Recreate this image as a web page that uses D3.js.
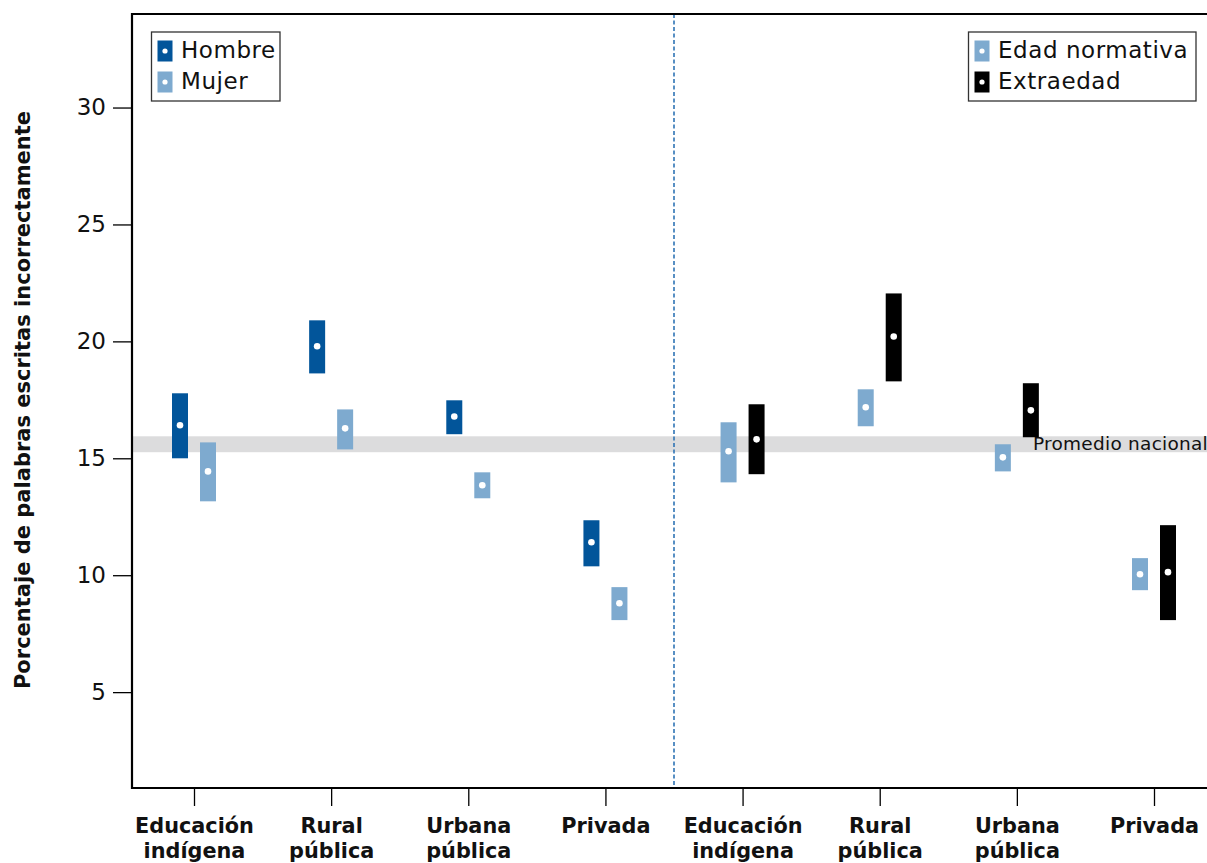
<!DOCTYPE html>
<html lang="es">
<head>
<meta charset="utf-8">
<script src="https://cdn.jsdelivr.net/npm/d3@7/dist/d3.min.js"></script>
<style>
  html, body { margin: 0; padding: 0; background: #fff; }
  svg { display: block; font-family: "DejaVu Sans", Verdana, sans-serif; }
</style>
</head>
<body>
<svg id="chart" width="1207" height="863"></svg>
<script>
// School types, repeated in the two panels (by sex, by age status)
const categories = ["Educación indígena", "Rural pública", "Urbana pública", "Privada"];
const panels = ["sexo", "edad"];

// Percentage of misspelled words: point estimate and interval bounds
const hombreMid = [16.41, 19.79, 16.79, 11.41];
const hombreLo  = [15.00, 18.63, 16.03, 10.38];
const hombreHi  = [17.78, 20.90, 17.48, 12.35];

const mujerMid = [14.44, 16.28, 13.85, 8.80];
const mujerLo  = [13.16, 15.38, 13.29, 8.08];
const mujerHi  = [15.68, 17.09, 14.40, 9.49];

const normativaMid = [15.30, 17.18, 15.04, 10.04];
const normativaLo  = [13.97, 16.37, 14.44, 9.36];
const normativaHi  = [16.54, 17.95, 15.60, 10.73];

const extraedadMid = [15.81, 20.21, 17.05, 10.13];
const extraedadLo  = [14.32, 18.29, 15.90, 8.08];
const extraedadHi  = [17.31, 22.05, 18.21, 12.14];

// National average band
const nacionalLo = 15.26;
const nacionalHi = 15.94;

const yTicks = [5, 10, 15, 20, 25, 30];

const series = [
  { name: "Hombre",          panel: "sexo", side: -1, color: "#02559a", mid: hombreMid,    lo: hombreLo,    hi: hombreHi },
  { name: "Mujer",           panel: "sexo", side:  1, color: "#7eaacf", mid: mujerMid,     lo: mujerLo,     hi: mujerHi },
  { name: "Edad normativa",  panel: "edad", side: -1, color: "#7eaacf", mid: normativaMid, lo: normativaLo, hi: normativaHi },
  { name: "Extraedad",       panel: "edad", side:  1, color: "#000000", mid: extraedadMid, lo: extraedadLo, hi: extraedadHi }
];

const svg = d3.select("#chart");
const W = 1207;
const plot = { left: 132, top: 14, right: 1207, bottom: 788 };

// One slot per panel/category pair
const slots = panels.flatMap(p => categories.map((c, i) => ({ key: p + "-" + i, label: c })));
const x = d3.scalePoint().domain(slots.map(s => s.key)).range([194, 1154]);
const y = d3.scaleLinear().domain([0.9, 34]).range([plot.bottom, plot.top]);

const barW = 16;
const offset = 14;

// National average band and label
svg.append("rect")
  .attr("x", plot.left).attr("width", W - plot.left)
  .attr("y", y(nacionalHi)).attr("height", y(nacionalLo) - y(nacionalHi))
  .attr("fill", "#dcdcdd");

svg.append("text")
  .attr("x", 1033).attr("y", y((nacionalLo + nacionalHi) / 2) + 6)
  .attr("font-size", 18.5).attr("letter-spacing", 0.25).attr("fill", "#111")
  .text("Promedio nacional");

// Panel separator
const sepX = (x(slots[3].key) + x(slots[4].key)) / 2;
svg.append("line")
  .attr("x1", sepX).attr("x2", sepX)
  .attr("y1", plot.top).attr("y2", plot.bottom)
  .attr("stroke", "#2f74b5").attr("stroke-width", 1.6)
  .attr("stroke-dasharray", "4,2.5");

// Interval bars with a white dot at the estimate
series.forEach(s => {
  const rows = categories.map((c, i) => ({
    cx: x(s.panel + "-" + i) + s.side * offset,
    mid: s.mid[i], lo: s.lo[i], hi: s.hi[i]
  }));
  const g = svg.append("g");
  g.selectAll("rect").data(rows).join("rect")
    .attr("x", d => d.cx - barW / 2).attr("width", barW)
    .attr("y", d => y(d.hi)).attr("height", d => y(d.lo) - y(d.hi))
    .attr("fill", s.color);
  g.selectAll("circle").data(rows).join("circle")
    .attr("cx", d => d.cx).attr("cy", d => y(d.mid))
    .attr("r", 3.3).attr("fill", "#fff");
});

// Frame: left, top and bottom edges
const frame = svg.append("g").attr("stroke", "#000").attr("stroke-width", 2.2).attr("fill", "none");
frame.append("line").attr("x1", plot.left).attr("x2", plot.left).attr("y1", plot.top - 1).attr("y2", plot.bottom + 1);
frame.append("line").attr("x1", plot.left).attr("x2", W).attr("y1", plot.top).attr("y2", plot.top);
frame.append("line").attr("x1", plot.left).attr("x2", W).attr("y1", plot.bottom).attr("y2", plot.bottom);

// Y axis
const yAxis = svg.append("g")
  .attr("transform", `translate(${plot.left},0)`)
  .call(d3.axisLeft(y).tickValues(yTicks).tickSize(19).tickPadding(7).tickFormat(d3.format("d")));
yAxis.select(".domain").remove();
yAxis.selectAll(".tick line").attr("stroke", "#000").attr("stroke-width", 1.3);
yAxis.selectAll(".tick text").attr("font-size", 23).attr("fill", "#111")
  .attr("font-family", "DejaVu Sans, Verdana, sans-serif");

svg.append("text")
  .attr("transform", `translate(30,400) rotate(-90)`)
  .attr("text-anchor", "middle")
  .attr("font-size", 21).attr("font-weight", "bold").attr("fill", "#111")
  .text("Porcentaje de palabras escritas incorrectamente");

// X axis with two-line category labels
const labelOf = new Map(slots.map(s => [s.key, s.label]));
const xAxis = svg.append("g")
  .attr("transform", `translate(0,${plot.bottom})`)
  .call(d3.axisBottom(x).tickSize(18).tickFormat(k => labelOf.get(k)));
xAxis.select(".domain").remove();
xAxis.selectAll(".tick line").attr("stroke", "#000").attr("stroke-width", 1.3);
xAxis.selectAll(".tick text").each(function (k) {
  const words = labelOf.get(k).split(" ");
  const t = d3.select(this).text(null)
    .attr("y", 0).attr("dy", null)
    .attr("font-size", 20.8).attr("font-weight", "bold").attr("fill", "#111")
    .attr("font-family", "DejaVu Sans, Verdana, sans-serif");
  words.forEach((w, i) => {
    t.append("tspan").attr("x", 0).attr("y", 45 + i * 25).text(w);
  });
});

// Legends
function legend(x0, y0, w, items) {
  const g = svg.append("g").attr("transform", `translate(${x0},${y0})`);
  g.append("rect").attr("width", w).attr("height", 69)
    .attr("fill", "#fff").attr("stroke", "#333").attr("stroke-width", 1.3);
  items.forEach((it, i) => {
    const row = g.append("g").attr("transform", `translate(6,${8.5 + i * 31})`);
    row.append("rect").attr("width", 15).attr("height", 21).attr("fill", it.color);
    row.append("circle").attr("cx", 7.5).attr("cy", 10.5).attr("r", 2.6).attr("fill", "#fff");
    row.append("text").attr("x", 23.5).attr("y", 17.5)
      .attr("font-size", 23).attr("letter-spacing", 0.55).attr("fill", "#111").text(it.name);
  });
}
legend(151.5, 32, 128.5, series.filter(s => s.panel === "sexo"));
legend(968.5, 32, 227.5, series.filter(s => s.panel === "edad"));
</script>
</body>
</html>
